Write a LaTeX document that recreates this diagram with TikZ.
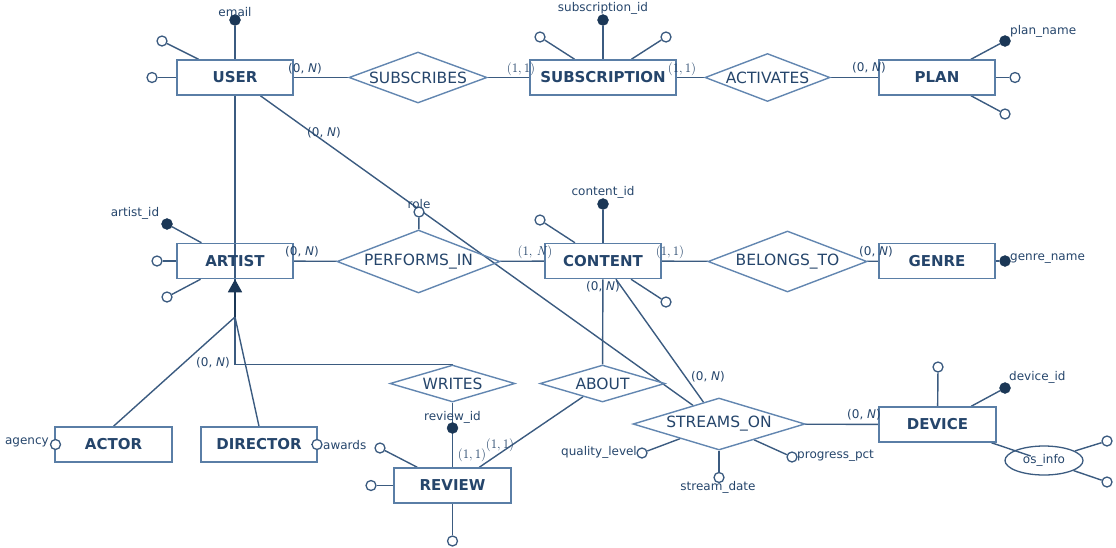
\documentclass[tikz,border=0pt]{standalone}
\usepackage{fontspec}
\setsansfont{DejaVu Sans}
\usetikzlibrary{shapes.geometric,arrows.meta}
\definecolor{linecol}{HTML}{3B5B80}
\definecolor{boxcol}{HTML}{5A7EA6}
\definecolor{diacol}{HTML}{6286B0}
\definecolor{textcol}{HTML}{25456B}
\definecolor{keycol}{HTML}{1B3756}
\pgfdeclarelayer{bg}
\pgfsetlayers{bg,main}
% cardinality written with serif digits
\newcommand{\serifcard}[1]{{\rmfamily\fontsize{13}{15}\selectfont #1}}
\begin{document}
\begin{tikzpicture}[x=1pt,y=-1pt,
  entity/.style={draw=boxcol, line width=1.5pt, minimum width=116pt, minimum height=35pt,
    inner sep=0, text=textcol, font=\sffamily\fontsize{15}{18}\selectfont\bfseries},
  rel/.style={diamond, draw=diacol, line width=1.4pt, inner sep=0},
  reltext/.style={text=textcol, inner sep=0, font=\sffamily\fontsize{15.5}{18}\selectfont},
  attr/.style={circle, draw=linecol, fill=white, line width=1.3pt, minimum size=10pt, inner sep=0},
  keyattr/.style={circle, draw=keycol, fill=keycol, minimum size=11pt, inner sep=0},
  lbl/.style={text=textcol, inner sep=0, font=\sffamily\fontsize{12}{14}\selectfont},
  card/.style={text=textcol, inner sep=0, font=\sffamily\fontsize{12}{14}\selectfont},
  conn/.style={draw=linecol, line width=1.4pt},
  isatip/.style={-{Triangle[width=14pt,length=13pt]}}
]
\useasboundingbox (0,0) rectangle (1116,547);

% ---------- entities ----------
\node[entity] (user) at (235,77.5) {USER};
\node[entity, minimum width=146pt] (subscription) at (603,77.5) {SUBSCRIPTION};
\node[entity] (plan) at (937,77.5) {PLAN};
\node[entity] (artist) at (235,261) {ARTIST};
\node[entity] (content) at (603,261) {CONTENT};
\node[entity] (genre) at (937,261) {GENRE};
\node[entity, minimum width=117pt] (actor) at (113.5,444.5) {ACTOR};
\node[entity] (director) at (259,444.5) {DIRECTOR};
\node[entity, minimum width=117pt] (review) at (452.5,485.5) {REVIEW};
\node[entity, minimum width=117pt] (device) at (937.5,424.5) {DEVICE};

% ---------- relationships ----------
\node[rel, minimum width=138pt, minimum height=51pt] (subscribes) at (418,77.5) {};
\node[reltext] (subscribesT) at (subscribes) {SUBSCRIBES};
\node[rel, minimum width=125pt, minimum height=48pt] (activates) at (767.5,77.5) {};
\node[reltext] (activatesT) at (activates) {ACTIVATES};
\node[rel, minimum width=163pt, minimum height=63pt] (performs) at (418.5,261.5) {};
\node[reltext] (performsT) at (performs) {PERFORMS\_IN};
\node[rel, minimum width=159pt, minimum height=61pt] (belongs) at (787.5,261.5) {};
\node[reltext] (belongsT) at (belongs) {BELONGS\_TO};
\node[rel, minimum width=125pt, minimum height=37pt] (writes) at (452.5,383.5) {};
\node[reltext] (writesT) at (writes) {WRITES};
\node[rel, minimum width=125pt, minimum height=37pt] (about) at (602.5,383.5) {};
\node[reltext] (aboutT) at (about) {ABOUT};
\node[rel, minimum width=172pt, minimum height=52pt] (streams) at (719,424) {};
\node[reltext] (streamsT) at (streams) {STREAMS\_ON};

% ---------- attributes ----------
\node[keyattr] (uemail) at (235,20) {};
\node[attr] (ua1) at (162,41) {};
\node[attr] (ua2) at (152,77.5) {};
\node[keyattr] (subid) at (603,20) {};
\node[attr] (sa1) at (540,37) {};
\node[attr] (sa2) at (666,37) {};
\node[keyattr] (pname) at (1005,41) {};
\node[attr] (pa1) at (1015,77.5) {};
\node[attr] (pa2) at (1005,114) {};
\node[keyattr] (aid) at (167,224) {};
\node[attr] (aa1) at (157,261) {};
\node[attr] (aa2) at (167,297) {};
\node[keyattr] (cid) at (603,204) {};
\node[attr] (ca1) at (540,220) {};
\node[attr] (ca2) at (666,302) {};
\node[keyattr] (gname) at (1005,261) {};
\node[attr] (role) at (419,212) {};
\node[attr] (agency) at (55.5,444.5) {};
\node[attr] (awards) at (317,444.5) {};
\node[keyattr] (rid) at (452.5,428) {};
\node[attr] (ra1) at (380,448) {};
\node[attr] (ra2) at (371,485.5) {};
\node[attr] (ra3) at (452.5,541) {};
\node[attr] (da1) at (938,367) {};
\node[keyattr] (did) at (1005,388) {};
\node[ellipse, draw=linecol, line width=1.3pt, minimum width=78pt, minimum height=29pt,
      inner sep=0, text=textcol, font=\sffamily\fontsize{12}{14}\selectfont] (osinfo) at (1044,460.5) {os\_info};
\node[attr] (os1) at (1107,441) {};
\node[attr] (os2) at (1107,482) {};
\node[attr] (ql) at (642,453) {};
\node[attr] (sd) at (719,477.5) {};
\node[attr] (pp) at (792,457) {};

% attribute names
\node[lbl] (lemail) at (235,12) {email};
\node[lbl] (lsubid) at (603,8) {subscription\_id};
\node[lbl, anchor=west] (lpname) at (1010,31) {plan\_name};
\node[lbl] (laid) at (135,213) {artist\_id};
\node[lbl] (lcid) at (603,192) {content\_id};
\node[lbl, anchor=west] (lgname) at (1010,259) {genre\_name};
\node[lbl] (lrole) at (419,204) {role};
\node[lbl, anchor=east] (lagency) at (49,442) {agency};
\node[lbl, anchor=west] (lawards) at (323,445) {awards};
\node[lbl] (lrid) at (452.5,417) {review\_id};
\node[lbl, anchor=west] (ldid) at (1009,377) {device\_id};
\node[lbl, anchor=east] (lql) at (637,452) {quality\_level};
\node[lbl] (lsd) at (718,487) {stream\_date};
\node[lbl, anchor=west] (lpp) at (797,456) {progress\_pct};

% ---------- cardinalities ----------
\node[card] (k1) at (305,69) {(0, \textit{N})};
\node[card] (k2) at (521,69) {\serifcard{(1,\,1)}};
\node[card] (k3) at (682,69) {\serifcard{(1,\,1)}};
\node[card] (k4) at (869,68) {(0, \textit{N})};
\node[card] (k5) at (324,133) {(0, \textit{N})};
\node[card] (k6) at (302,252) {(0, \textit{N})};
\node[card] (k7) at (535,252) {\serifcard{(1, \textit{N})}};
\node[card] (k8) at (670,252) {\serifcard{(1,\,1)}};
\node[card] (k9) at (876,252) {(0, \textit{N})};
\node[card] (k10) at (603,287) {(0, \textit{N})};
\node[card] (k11) at (708,377) {(0, \textit{N})};
\node[card] (k12) at (864,415) {(0, \textit{N})};
\node[card] (k13) at (213,363) {(0, \textit{N})};
\node[card] (k14) at (472,455) {\serifcard{(1,\,1)}};
\node[card] (k15) at (500,445) {\serifcard{(1,\,1)}};

\coordinate (isa) at (235,317);

% ---------- connectors ----------
\begin{pgfonlayer}{bg}
  % relationships
  \draw[conn] (user) -- (subscribes);
  \draw[conn] (subscribes) -- (subscription);
  \draw[conn] (subscription) -- (activates);
  \draw[conn] (activates) -- (plan);
  \draw[conn] (artist) -- (performs);
  \draw[conn] (performs) -- (content);
  \draw[conn] (content) -- (belongs);
  \draw[conn] (belongs) -- (genre);
  \draw[conn, line width=1.6pt] (user.south) |- (writes.north);
  \draw[conn] (writes) -- (review);
  \draw[conn] (content) -- (about);
  \draw[conn] (about) -- (review);
  \draw[conn] (user) -- (streams);
  \draw[conn] (content) -- (streams);
  \draw[conn] (streams) -- (device);
  % specialisation of ARTIST
  \draw[conn] (actor.north) -- (isa);
  \draw[conn] (director.north) -- (isa);
  \draw[conn, line width=1.6pt, isatip, draw=keycol, fill=keycol] (isa) -- (artist.south);
  % attributes
  \draw[conn] (user) -- (uemail);
  \draw[conn] (user) -- (ua1);
  \draw[conn] (user) -- (ua2);
  \draw[conn] (subscription) -- (subid);
  \draw[conn] (subscription) -- (sa1);
  \draw[conn] (subscription) -- (sa2);
  \draw[conn] (plan) -- (pname);
  \draw[conn] (plan) -- (pa1);
  \draw[conn] (plan) -- (pa2);
  \draw[conn] (artist) -- (aid);
  \draw[conn] (artist) -- (aa1);
  \draw[conn] (artist) -- (aa2);
  \draw[conn] (content) -- (cid);
  \draw[conn] (content) -- (ca1);
  \draw[conn] (content) -- (ca2);
  \draw[conn] (genre) -- (gname);
  \draw[conn] (performs) -- (role);
  \draw[conn] (actor) -- (agency);
  \draw[conn] (director) -- (awards);
  \draw[conn] (review) -- (rid);
  \draw[conn] (review) -- (ra1);
  \draw[conn] (review) -- (ra2);
  \draw[conn] (review) -- (ra3);
  \draw[conn] (device) -- (da1);
  \draw[conn] (device) -- (did);
  \draw[conn, shorten >=14pt] (device) -- (osinfo.center);
  \draw[conn] (osinfo) -- (os1);
  \draw[conn] (osinfo) -- (os2);
  \draw[conn] (streams) -- (ql);
  \draw[conn] (streams) -- (sd);
  \draw[conn] (streams) -- (pp);
\end{pgfonlayer}
\end{tikzpicture}
\end{document}
